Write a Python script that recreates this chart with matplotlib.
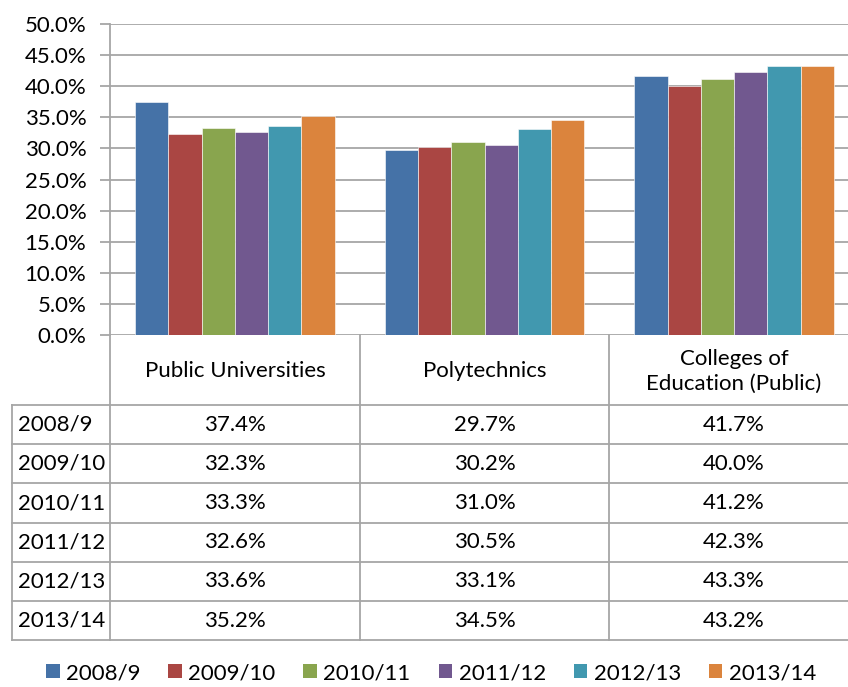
import matplotlib.pyplot as plt
from matplotlib.patches import Patch
import numpy as np

plt.rcParams['font.family'] = ['Lato', 'DejaVu Sans']

# datos
categories = ["Public Universities", "Polytechnics", "Colleges of\nEducation (Public)"]
years = ["2008/9", "2009/10", "2010/11", "2011/12", "2012/13", "2013/14"]
v_2008 = [37.4, 29.7, 41.7]
v_2009 = [32.3, 30.2, 40.0]
v_2010 = [33.3, 31.0, 41.2]
v_2011 = [32.6, 30.5, 42.3]
v_2012 = [33.6, 33.1, 43.3]
v_2013 = [35.2, 34.5, 43.2]
series = [v_2008, v_2009, v_2010, v_2011, v_2012, v_2013]
colors = ['#4572A7', '#AA4643', '#89A54E', '#71588F', '#4198AF', '#DB843D']

W, H = 848, 687
fig = plt.figure(figsize=(W / 100, H / 100), dpi=100)

def fx(px):
    return px / W

def fy(py):  # py medido desde arriba
    return 1 - py / H

grid_c = '#A6A6A6'
fs = 16

# area del grafico (se sale un poco por la derecha, como en la captura)
x0, x1, ytop, ybot = 110, 859, 24, 335
ax = fig.add_axes([fx(x0), fy(ybot), fx(x1 - x0), (ybot - ytop) / H])
ax.set_xlim(0, 3)
ax.set_ylim(0, 50)
bw = 0.8 / 6
x = np.arange(3) + 0.5
for i, vals in enumerate(series):
    ax.bar(x - 0.4 + bw * (i + 0.5), vals, width=bw, color=colors[i],
           edgecolor='white', linewidth=0.4, zorder=3)
ax.set_yticks(np.arange(0, 50.1, 5))
ax.set_yticklabels([f"{t:.1f}%" for t in np.arange(0, 50.1, 5)], fontsize=fs)
ax.yaxis.grid(True, color=grid_c, linewidth=1.3, zorder=0)
ax.set_xticks([])
for s in ['top', 'right', 'bottom']:
    ax.spines[s].set_visible(False)
ax.spines['left'].set_color(grid_c)
ax.spines['left'].set_linewidth(1.3)
ax.tick_params(axis='y', length=7, color=grid_c, width=1.3, pad=10)

# tabla de datos debajo
tab_left = 12
cols = [110, 360, 609, 859]
hdr_bot = 405
row_h = 39.2
rows = [hdr_bot + row_h * i for i in range(7)]

def line(xa, ya, xb, yb):
    fig.add_artist(plt.Line2D([fx(xa), fx(xb)], [fy(ya), fy(yb)], color=grid_c, linewidth=1.3))

for c in cols:
    line(c, ybot, c, rows[-1])
line(tab_left, rows[0], tab_left, rows[-1])
for r in rows:
    line(tab_left, r, cols[-1], r)

for j, cat in enumerate(categories):
    cx = (cols[j] + cols[j + 1]) / 2
    fig.text(fx(cx), fy((ybot + hdr_bot) / 2 + 1), cat, ha='center', va='center',
             fontsize=fs, linespacing=1.3)

for i, yr in enumerate(years):
    cy = (rows[i] + rows[i + 1]) / 2
    fig.text(fx(tab_left + 6), fy(cy), yr, ha='left', va='center', fontsize=fs)
    for j in range(3):
        cx = (cols[j] + cols[j + 1]) / 2
        fig.text(fx(cx), fy(cy), f"{series[i][j]:.1f}%", ha='center', va='center', fontsize=fs)

# leyenda
handles = [Patch(facecolor=c, label=y) for c, y in zip(colors, years)]
fig.legend(handles=handles, loc='center', bbox_to_anchor=(fx(431), fy(673)), ncol=6,
           frameon=False, fontsize=fs, handlelength=0.6, handleheight=0.6,
           handletextpad=0.3, columnspacing=1.25, borderpad=0.1)

fig.savefig('out.png', dpi=100)
